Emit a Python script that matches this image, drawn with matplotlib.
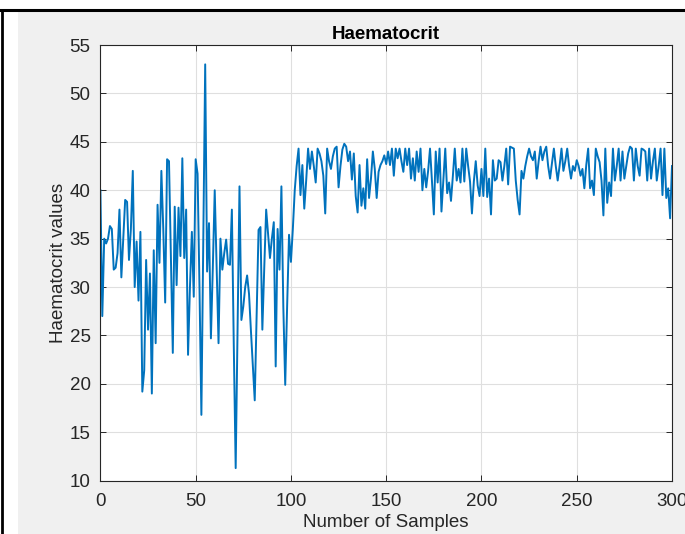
import numpy as np
import matplotlib.pyplot as plt
from matplotlib.patches import Rectangle
from matplotlib.lines import Line2D

plt.rcParams['font.family'] = ['Liberation Sans', 'DejaVu Sans']

# haematocrit readings, split by sample range
hct_000_050 = [40, 27, 35, 34.5, 35, 36.3, 36, 31.8, 32, 33.5,
               38, 31, 35, 39, 38.8, 32.8, 36, 42, 30, 34.7,
               28.6, 35.7, 19.2, 21.4, 32.8, 25.6, 31.4, 19, 33.8, 24.2,
               38.5, 32.5, 42, 36, 28.4, 43.2, 43, 33, 23.2, 38.3,
               30.2, 38.2, 33.2, 43.3, 33, 38, 23, 30, 35.7, 29, 43.2]
hct_051_099 = [41.7, 30, 16.8, 35, 53, 31.6, 36.6, 24.7, 32,
               40, 32, 24.2, 35, 31.8, 33.5, 34.9, 32.4, 32.3, 38,
               24, 11.3, 26, 40.4, 26.6, 28, 30, 31.2, 29.3, 25.5,
               22, 18.3, 27, 35.9, 36.2, 25.6, 32, 38, 35.5, 33,
               35, 36.7, 21.8, 36, 31.8, 40.4, 28, 19.9, 28, 35.4]
hct_100_149 = [32.6, 36, 40, 42.5, 44.3, 39.5, 42.6, 38.1, 41, 44.3,
               42.2, 44, 42.5, 40.8, 44.3, 43.8, 43, 41.5, 37.6, 44.3,
               43, 42.2, 43.5, 44.3, 44.5, 40.3, 42.5, 44.2, 44.8, 44.5,
               43, 44, 41.1, 43.8, 39.4, 37.7, 42.6, 38.4, 40.2, 38.1,
               43.2, 39.2, 41.2, 44, 42.2, 39.2, 41.9, 42.6, 43, 43.6]
hct_150_200 = [42.7, 44, 42.6, 44.3, 41.5, 44.3, 43.3, 44.3, 43, 41.9,
               44.3, 42.6, 44.3, 41.2, 43.3, 41, 44, 41.9, 44.3, 40,
               42.2, 40.3, 42, 44.3, 41, 37.5, 44, 40.8, 44.3, 37.8,
               41, 44.3, 39.7, 40.8, 38.9, 41.5, 44.3, 41, 42.2, 40.8,
               44.3, 40.9, 44.3, 42.5, 40.9, 37.6, 40.9, 43, 40.5, 39.4,
               42.2]
hct_201_252 = [39.4, 44.3, 39.3, 41.2, 37.5, 43.1, 41, 41.2, 43.1, 42.9,
               41, 42.5, 44.3, 40.6, 44.5, 44.4, 44.3, 41, 39, 37.5,
               42, 41.2, 42.5, 43.5, 44.3, 43.5, 43.1, 44, 41.2, 43,
               44.5, 43.1, 44, 44.5, 42.5, 41.2, 42.8, 44.3, 42.5, 41,
               42.5, 44.3, 42, 43, 44.3, 42.5, 41.2, 42.5, 42, 43.1,
               42.5, 41.5]
hct_253_300 = [42.2, 40.2, 42.6, 44.3, 40.2, 41, 39.5, 44.3, 43.5, 42.9,
               41, 37.4, 44.3, 38.7, 40.8, 39.4, 44.3, 41, 42.5, 44.3,
               41, 44, 41.2, 42.5, 43.8, 44.5, 44.3, 41, 44.3, 42.5,
               41.5, 44.3, 44.2, 44, 41, 44.3, 41.2, 43, 44.3, 41,
               42.5, 44.3, 39.5, 44.3, 39.2, 40.2, 37.1, 42.5]

x_ticks = [0, 50, 100, 150, 200, 250, 300]
y_ticks = [10, 15, 20, 25, 30, 35, 40, 45, 50, 55]

hct = np.array(hct_000_050 + hct_051_099 + hct_100_149 +
               hct_150_200 + hct_201_252 + hct_253_300)
samples = np.arange(len(hct))

fig = plt.figure(figsize=(6.85, 5.34), dpi=100)
fig.patch.set_facecolor('white')

# grey figure panel and the black table borders
fig.patches.append(Rectangle((18 / 685, 0), 1, (534 - 12) / 534,
                             transform=fig.transFigure, facecolor='#f0f0f0',
                             edgecolor='none', zorder=-10))
fig.lines.append(Line2D([0, 1], [1 - 10 / 534, 1 - 10 / 534],
                        transform=fig.transFigure, color='black', lw=2.2,
                        zorder=10))
fig.lines.append(Line2D([2 / 685, 2 / 685], [0, 1 - 10 / 534],
                        transform=fig.transFigure, color='black', lw=2.0,
                        zorder=10))

ax = fig.add_axes([100.4 / 685, (534 - 480.7) / 534, 571.6 / 685, 435.7 / 534])
ax.set_facecolor('white')
ax.plot(samples, hct, color='#0072BD', lw=1.4)

ax.set_xlim(0, 300)
ax.set_ylim(10, 55)
ax.set_xticks(x_ticks)
ax.set_yticks(y_ticks)
ax.grid(True, color='#dfdfdf', lw=0.8)
ax.set_axisbelow(True)
ax.tick_params(direction='in', length=4, width=0.7, colors='#262626',
               labelsize=13.5, top=True, right=True)
ax.tick_params(axis='y', pad=7)
ax.tick_params(axis='x', pad=8.5)
for s in ax.spines.values():
    s.set_color('#262626')
    s.set_linewidth(0.8)

ax.set_title('Haematocrit', fontsize=13.5, fontweight='bold', color='black', pad=4)
ax.set_xlabel('Number of Samples', fontsize=13.5, color='#262626', labelpad=3)
ax.set_ylabel('Haematocrit values', fontsize=13.5, color='#262626', labelpad=2)

fig.savefig('out.png', dpi=100)
